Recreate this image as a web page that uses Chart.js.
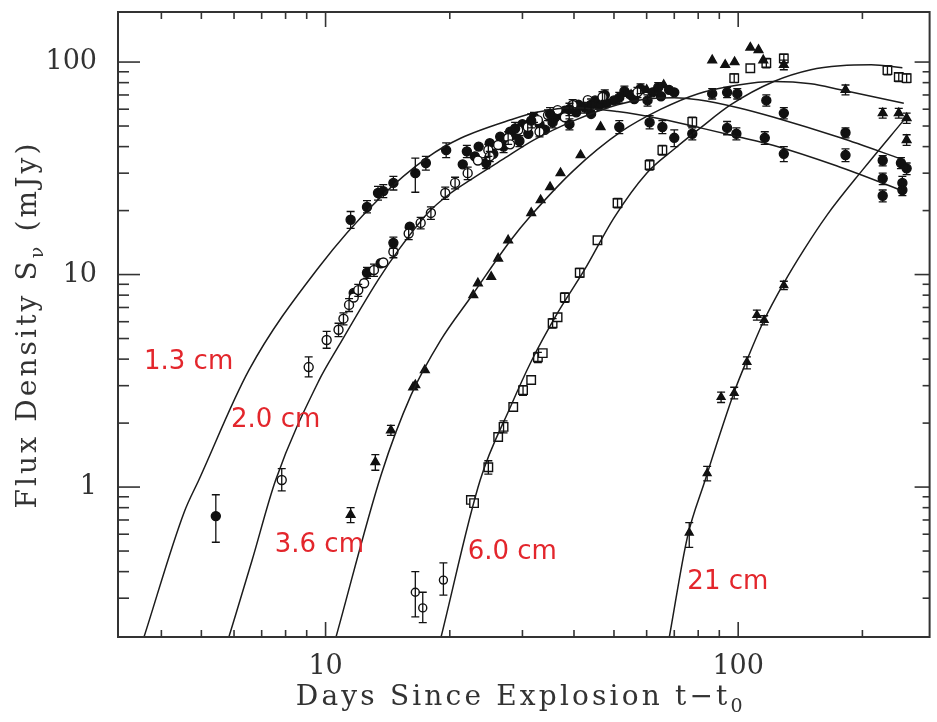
<!DOCTYPE html>
<html>
<head>
<meta charset="utf-8">
<script src="https://cdn.jsdelivr.net/npm/chart.js@4.4.0/dist/chart.umd.min.js"></script>
<style>
  html, body { margin: 0; padding: 0; background: #fff; }
</style>
</head>
<body>
<canvas id="myChart" width="937" height="722"></canvas>
<script>

// axis ticks
let xMajor = [10, 100];
let xMinor = [4, 5, 6, 7, 8, 9, 20, 30, 40, 50, 60, 70, 80, 90, 200];
let yMajor = [1, 10, 100];
let yMinor = [0.3, 0.4, 0.5, 0.6, 0.7, 0.8, 0.9, 2, 3, 4, 5, 6, 7, 8, 9, 20, 30, 40, 50, 60, 70, 80, 90];

// band labels (red)
let bandNames = ['1.3 cm', '2.0 cm', '3.6 cm', '6.0 cm', '21 cm'];
let bandLabelDay = [3.63, 5.9, 7.53, 22.1, 75.3];
let bandLabelFlux = [3.87, 2.07, 0.533, 0.494, 0.357];

// model curves (day, mJy)
let curve13Day = [3.63, 4.54, 4.93, 6.52, 9.62, 13.4, 17.7, 21.3, 28.1, 32.7, 40, 51, 65, 81, 100, 122, 173, 250];
let curve13Flux = [0.197, 0.76, 1.08, 3.55, 10.8, 22.5, 35.7, 43.9, 53.5, 58.2, 61, 58.5, 54, 49, 44.5, 40.5, 32.5, 24.8];

let curve20Day = [5.83, 6.63, 7.57, 9.62, 10.75, 13.4, 15, 17.7, 20, 22.5, 27, 32, 40, 51, 60, 70, 80, 100, 122, 177, 250];
let curve20Flux = [0.197, 0.45, 1.08, 3.15, 4.6, 9.42, 13.0, 19.5, 24, 28, 35, 43, 53, 63, 67, 68, 66.5, 61, 55, 44, 34.8];

let curve36Day = [10.6, 13.65, 16.1, 19, 22.5, 28.1, 31.5, 40, 52, 65, 80, 100, 122, 150, 177, 252];
let curve36Flux = [0.197, 1.15, 2.7, 4.9, 7.84, 14.5, 19, 31, 47, 60, 71, 78, 81, 79, 74, 64];

let curve60Day = [19.05, 23.7, 28.1, 31.5, 36.5, 42.5, 50, 60, 70, 81, 96, 122, 150, 177, 210, 250];
let curve60Flux = [0.197, 1.08, 2.4, 3.9, 6.6, 10.6, 18.5, 30, 39, 49, 63, 81, 92, 96, 97, 94];

let curve21Day = [68.1, 75.3, 82.8, 97.8, 105, 115.6, 129, 144, 164, 200, 252];
let curve21Flux = [0.197, 0.58, 1.05, 2.8, 3.96, 6.11, 9.12, 13.0, 19, 31, 53.3];

// measurements: [day, mJy, errLow, errHigh]
let obs13 = [
  [5.42, 0.73, 0.55, 0.92], [11.5, 18.1, 16.5, 19.8], [12.6, 20.8, 19.5, 22.3], [13.4, 24.2, 22.4, 26],
  [13.8, 24.7, 23, 26.5], [14.6, 27.0, 25, 29], [16.5, 30.0, 24.4, 35.3], [17.5, 33.5, 31, 36],
  [19.6, 38.5, 35.5, 41.7], [28.8, 48.7, 45, 52], [31.5, 53, 49, 57], [35, 57, 53, 61], [39, 60, 56, 64],
  [44, 63, 59, 67], [51.5, 49.5, 46, 53], [61, 52, 48.5, 56], [65.5, 49.5, 46, 53], [70, 44, 40, 48],
  [77.4, 46, 43, 49], [94, 49, 45.5, 52.5], [99, 46, 43, 49], [116, 44, 41, 47], [129, 37, 34, 40],
  [182, 36.5, 34, 39], [224, 28.3, 26.5, 30], [250, 27, 25, 29], [224, 23.5, 22, 25], [250, 25, 23.5, 26.5]
];
let obs20open = [
  [7.83, 1.08, 0.96, 1.22], [9.1, 3.67, 3.3, 4.1], [10.06, 4.92, 4.5, 5.4], [10.75, 5.5, 5.1, 5.9],
  [11.05, 6.2, 5.8, 6.6], [11.4, 7.2, 6.7, 7.7], [11.7, 7.8], [12.0, 8.45, 7.9, 9], [12.4, 9.1],
  [13.1, 10.5, 9.8, 11.2], [13.8, 11.4], [14.6, 12.8, 12, 13.6], [15.9, 15.6, 14.6, 16.6],
  [17.0, 17.5, 16.4, 18.6], [18, 19.5, 18.2, 20.8], [19.5, 24.2, 22.6, 25.8], [20.6, 27, 25.3, 28.7],
  [22.1, 30, 28, 32], [23.4, 34.4], [24.8, 38.5, 36, 41], [26.2, 40.7], [27.7, 43.9, 41, 47],
  [29.3, 47.9], [30.9, 49.5, 46.5, 52.5], [32.7, 53.3], [34.6, 56.3, 53, 59.5], [36.5, 59.4],
  [39.7, 62.8, 59, 66.5], [43.2, 66.2], [46.9, 68.5, 64.5, 72.5], [57, 72, 68, 76],
  [25, 36, 34, 38], [28, 41], [33, 47, 44.5, 49.5], [38, 55]
];
let obs20filled = [
  [11.7, 8.2], [12.6, 10.2, 9.6, 10.8], [13.6, 11.3], [14.6, 14.1, 13.3, 15], [16, 16.8],
  [21.5, 33], [23, 36], [25, 41.5], [26.5, 44.5], [28.5, 45.5], [30, 51], [33, 51], [36, 55],
  [38, 59], [41, 63], [45, 66], [48, 64], [51.5, 68, 64, 72], [55, 70], [60.3, 66, 62, 70],
  [65, 69], [70, 72], [86.5, 71, 67, 75], [94, 72, 68, 76], [99.5, 71, 67, 75], [117, 66, 62, 70],
  [129, 57.5, 54, 61], [182, 46.5, 44, 49], [224, 34.4, 32.5, 36.3], [248, 33.5, 31.5, 35.5], [256, 31.6, 29.5, 33.5],
  [22, 38, 35.5, 40.5], [23.5, 40], [24.5, 33.5, 31.5, 35.5], [25.5, 37], [27, 40, 37.5, 42.5], [28, 47],
  [29.5, 42.5, 40, 45], [31, 46], [32, 55, 52, 58], [34, 48], [35.5, 52, 49, 55], [37.5, 56],
  [39, 51, 48, 54], [40.5, 58], [42.5, 61, 57.5, 64.5], [44, 57], [46, 62], [47.5, 70, 66, 74],
  [50, 66], [53, 73, 69, 77], [56, 67], [58, 75, 71, 79], [62, 72], [64, 76, 72, 80], [68, 74]
];
let obs36 = [
  [11.5, 0.74, 0.68, 0.80], [13.2, 1.31, 1.2, 1.42], [14.4, 1.85, 1.75, 1.95], [16.3, 2.95], [16.5, 3.02],
  [17.4, 3.55], [22.8, 8.0], [23.4, 9.1], [25.2, 9.75], [26.2, 11.9], [27.7, 14.5], [31.5, 19.5],
  [33.2, 22.4], [35, 25.8], [37.1, 30], [41.5, 36.5], [46.4, 49.5], [55, 70], [60, 74], [66, 78],
  [86.5, 102], [93, 97], [98, 100], [107, 117], [112, 114], [115, 102], [129, 97, 92, 102],
  [182, 74, 70, 78], [224, 57.5, 54.5, 60.5], [245, 57.5, 54.5, 60.5], [256, 54.5, 51.5, 57.5], [256, 43, 40.5, 45.5]
];
let obs60early = [[16.5, 0.32, 0.245, 0.40], [17.2, 0.27, 0.23, 0.32], [19.3, 0.365, 0.31, 0.44]];
let obs60 = [
  [22.5, 0.87], [22.9, 0.84], [24.8, 1.24, 1.15, 1.33], [26.2, 1.72], [27, 1.92, 1.8, 2.05],
  [28.5, 2.38], [30.1, 2.86, 2.7, 3.0], [31.5, 3.19], [32.7, 4.08, 3.85, 4.3], [33.6, 4.27],
  [35.5, 5.9, 5.6, 6.2], [36.5, 6.3], [38, 7.8, 7.4, 8.2], [41.3, 10.2, 9.7, 10.7], [45.6, 14.5],
  [51, 21.7, 20.6, 22.8], [61, 32.8, 31, 34.6], [65.5, 38.5, 36.5, 40.5], [77.4, 52.3, 49.5, 55],
  [97.8, 84, 80, 88], [107, 93.5], [117, 99, 94, 104], [129, 104, 99, 109], [230, 91.6, 87, 96],
  [245, 85, 81, 89], [256, 84, 80, 88]
];
let obs21 = [
  [76.1, 0.61, 0.52, 0.68], [84.1, 1.16, 1.07, 1.25], [90.9, 2.65, 2.5, 2.8], [97.8, 2.77, 2.6, 2.95],
  [105, 3.87, 3.6, 4.1], [111, 6.44, 6.1, 6.8], [115.6, 6.11, 5.8, 6.4], [129, 8.9, 8.5, 9.3]
];

function toPoints(arr) {
  return arr.map(p => ({ x: p[0], y: p[1], lo: p[2], hi: p[3] }));
}
function toCurve(days, flux) {
  return days.map((d, i) => ({ x: d, y: flux[i] }));
}

function curveSet(label, days, flux) {
  return {
    type: 'line', label: label, data: toCurve(days, flux),
    borderColor: '#1c1c1c', borderWidth: 1.5, pointRadius: 0,
    cubicInterpolationMode: 'monotone', fill: false
  };
}
function obsSet(label, arr, style, filled, radius) {
  return {
    type: 'scatter', label: label, data: toPoints(arr), errBars: true,
    pointStyle: style, pointRadius: radius, pointBorderWidth: 1.4,
    pointBorderColor: '#111', pointBackgroundColor: filled ? '#111' : '#fff'
  };
}

// plugins
const errorBars = {
  id: 'errorBars',
  afterDatasetsDraw(chart) {
    const { ctx, chartArea: a, scales: { x, y } } = chart;
    ctx.save();
    ctx.beginPath();
    ctx.rect(a.left, a.top, a.right - a.left, a.bottom - a.top);
    ctx.clip();
    ctx.strokeStyle = '#111';
    ctx.lineWidth = 1.3;
    chart.data.datasets.forEach(ds => {
      if (!ds.errBars) return;
      ds.data.forEach(p => {
        if (!p.lo) return;
        let px = x.getPixelForValue(p.x);
        let y1 = y.getPixelForValue(p.lo);
        let y2 = y.getPixelForValue(p.hi);
        ctx.beginPath();
        ctx.moveTo(px, y1); ctx.lineTo(px, y2);
        ctx.moveTo(px - 4, y1); ctx.lineTo(px + 4, y1);
        ctx.moveTo(px - 4, y2); ctx.lineTo(px + 4, y2);
        ctx.stroke();
      });
    });
    ctx.restore();
  }
};

const frameTicks = {
  id: 'frameTicks',
  afterDraw(chart) {
    const { ctx, chartArea: a, scales: { x, y } } = chart;
    ctx.save();
    ctx.strokeStyle = '#333';
    ctx.lineWidth = 2;
    ctx.strokeRect(a.left, a.top, a.right - a.left, a.bottom - a.top);
    ctx.lineWidth = 1.6;
    function seg(x1, y1, x2, y2) {
      ctx.beginPath(); ctx.moveTo(x1, y1); ctx.lineTo(x2, y2); ctx.stroke();
    }
    xMajor.forEach(v => {
      let p = x.getPixelForValue(v);
      seg(p, a.bottom, p, a.bottom - 15);
      seg(p, a.top, p, a.top + 15);
    });
    xMinor.forEach(v => {
      let p = x.getPixelForValue(v);
      seg(p, a.bottom, p, a.bottom - 7);
      seg(p, a.top, p, a.top + 7);
    });
    yMajor.forEach(v => {
      let p = y.getPixelForValue(v);
      seg(a.left, p, a.left + 22, p);
      seg(a.right, p, a.right - 15, p);
    });
    yMinor.forEach(v => {
      let p = y.getPixelForValue(v);
      seg(a.left, p, a.left + 11, p);
      seg(a.right, p, a.right - 7, p);
    });
    ctx.restore();
  }
};

const bandLabels = {
  id: 'bandLabels',
  afterDraw(chart) {
    const { ctx, scales: { x, y } } = chart;
    ctx.save();
    ctx.fillStyle = '#e3262c';
    ctx.font = '26px "DejaVu Sans"';
    ctx.textAlign = 'left';
    ctx.textBaseline = 'middle';
    bandNames.forEach((t, i) => {
      ctx.fillText(t, x.getPixelForValue(bandLabelDay[i]), y.getPixelForValue(bandLabelFlux[i]));
    });
    ctx.restore();
  }
};

// axis titles with subscripts, stretched like the scan
const titleFont = '28px "DejaVu Serif"';
const subFont = '19px "DejaVu Serif"';
function drawTitle(ctx, main, sub, tail, width) {
  ctx.font = titleFont;
  let w1 = ctx.measureText(main).width;
  let w3 = ctx.measureText(tail).width;
  ctx.font = subFont;
  let w2 = ctx.measureText(sub).width;
  let n = main.length + sub.length + tail.length;
  let sp = (width - (w1 + w2 + w3)) / n;
  ctx.letterSpacing = sp + 'px';
  ctx.font = titleFont;
  let a = ctx.measureText(main).width;
  let c = ctx.measureText(tail).width;
  ctx.font = subFont;
  let b = ctx.measureText(sub).width;
  let start = -(a + b + c) / 2;
  ctx.font = titleFont;
  ctx.fillText(main, start, 0);
  ctx.font = subFont;
  ctx.fillText(sub, start + a, 7);
  ctx.font = titleFont;
  ctx.fillText(tail, start + a + b, 0);
}

const axisTitles = {
  id: 'axisTitles',
  afterDraw(chart) {
    const { ctx, chartArea: a } = chart;
    ctx.save();
    ctx.fillStyle = '#333';
    ctx.textAlign = 'left';
    ctx.textBaseline = 'alphabetic';
    ctx.translate((a.left + a.right) / 2 - 3, 705);
    drawTitle(ctx, 'Days Since Explosion t\u2212t', '0', '', 450);
    ctx.restore();

    ctx.save();
    ctx.fillStyle = '#333';
    ctx.textAlign = 'left';
    ctx.textBaseline = 'alphabetic';
    ctx.translate(36, (a.top + a.bottom) / 2);
    ctx.rotate(-Math.PI / 2);
    drawTitle(ctx, 'Flux Density S', '\u03bd', ' (mJy)', 368);
    ctx.restore();
  }
};

const config = {
  data: {
    datasets: [
      curveSet('1.3 cm model', curve13Day, curve13Flux),
      curveSet('2.0 cm model', curve20Day, curve20Flux),
      curveSet('3.6 cm model', curve36Day, curve36Flux),
      curveSet('6.0 cm model', curve60Day, curve60Flux),
      curveSet('21 cm model', curve21Day, curve21Flux),
      obsSet('1.3 cm', obs13, 'circle', true, 4.5),
      obsSet('2.0 cm', obs20open, 'circle', false, 4.5),
      obsSet('2.0 cm b', obs20filled, 'circle', true, 4.5),
      obsSet('3.6 cm', obs36, 'triangle', true, 5),
      obsSet('6.0 cm early', obs60early, 'circle', false, 4),
      obsSet('6.0 cm', obs60, 'rect', false, 6),
      obsSet('21 cm', obs21, 'triangle', true, 4.5)
    ]
  },
  options: {
    responsive: false,
    animation: false,
    layout: { padding: { top: 12, right: 3, left: 0, bottom: 0 } },
    plugins: { legend: { display: false }, tooltip: { enabled: false } },
    scales: {
      x: {
        type: 'logarithmic', position: 'bottom', min: 3.14, max: 291,
        afterFit(s) { s.height = 85; s.paddingLeft = 0; s.paddingRight = 0; },
        afterBuildTicks(s) { s.ticks = xMajor.map(v => ({ value: v })); },
        grid: { display: false, drawTicks: false },
        border: { display: false },
        ticks: {
          autoSkip: false, maxRotation: 0, padding: 14, color: '#333',
          font: { family: 'DejaVu Serif', size: 27 },
          callback: v => String(v)
        }
      },
      y: {
        type: 'logarithmic', position: 'left', min: 0.197, max: 172,
        afterFit(s) { s.width = 118; s.paddingTop = 0; s.paddingBottom = 0; },
        afterBuildTicks(s) { s.ticks = yMajor.map(v => ({ value: v })); },
        grid: { display: false, drawTicks: false },
        border: { display: false },
        ticks: {
          autoSkip: false, padding: 21, color: '#333',
          font: { family: 'DejaVu Serif', size: 27 },
          callback: v => String(v)
        }
      }
    }
  },
  plugins: [errorBars, frameTicks, bandLabels, axisTitles]
};

var myChart = new Chart(document.getElementById('myChart'), config);
</script>
</body>
</html>
